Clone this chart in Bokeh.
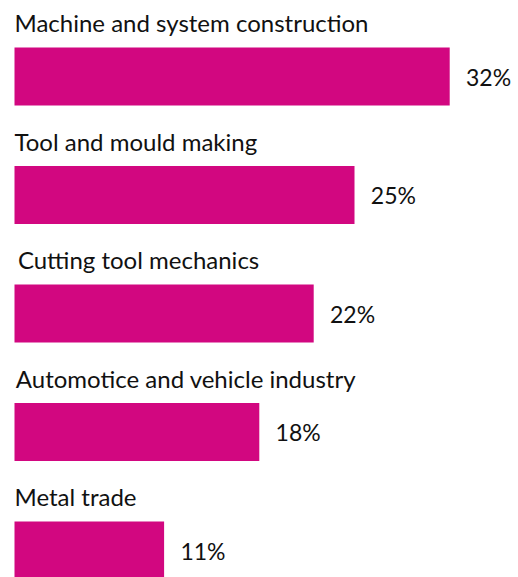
from bokeh.plotting import figure
from bokeh.models import Range1d, ColumnDataSource
from bokeh.core.properties import value
from bokeh.embed import file_html
from bokeh.resources import INLINE

categories = ["Machine and system construction", "Tool and mould making",
              "Cutting tool mechanics", "Automotice and vehicle industry", "Metal trade"]
shares = [32, 25, 22, 18, 11]
share_labels = ["32%", "25%", "22%", "18%", "11%"]

W, H = 518, 577
px_per_unit = 13.6
x0_px = 14
step_px = 118.5
first_center_px = 76

idx = list(range(len(categories)))
src = ColumnDataSource(dict(
    y=idx,
    v=shares,
    lab=share_labels,
    cat=categories,
    ly=[i - 0.455 for i in idx],
    lx=[0.0, 0.0, 0.25, 0.1, 0.0],
    px=[s + 1.2 for s in shares],
))

p = figure(width=W, height=H, output_backend="svg", toolbar_location=None,
           x_range=Range1d(-x0_px / px_per_unit, (W - x0_px) / px_per_unit),
           y_range=Range1d((H - first_center_px) / step_px, -first_center_px / step_px),
           min_border=0, min_border_left=0, min_border_right=0,
           min_border_top=0, min_border_bottom=0)
p.axis.visible = False
p.grid.visible = False
p.outline_line_color = None
p.background_fill_color = "white"
p.border_fill_color = "white"

p.hbar(y="y", left=0, right="v", height=58 / step_px, source=src,
       fill_color="#D20780", line_color=None)

p.text(x="lx", y="ly", text="cat", source=src, text_font=value("Lato"),
       text_font_size="24px", text_color="#111111", text_baseline="middle",
       text_align="left")
p.text(x="px", y="y", text="lab", source=src, text_font=value("Lato"),
       text_font_size="23px", text_color="#111111", text_baseline="middle",
       text_align="left")

open("out.html", "w").write(file_html(p, INLINE))
